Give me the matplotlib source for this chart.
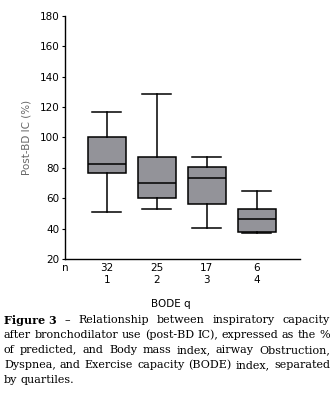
import matplotlib.pyplot as plt

# BODE quartiles and number of patients in each
quartiles = ["1", "2", "3", "4"]
n_patients = ["32", "25", "17", "6"]

# post-BD IC (% of predicted) box statistics per quartile
whisker_low = [50.7, 52.7, 40.2, 37.0]
q1 = [76.4, 60.0, 56.0, 37.6]
median = [82.8, 69.8, 73.1, 46.1]
q3 = [100.0, 86.9, 80.3, 53.1]
whisker_high = [116.5, 128.3, 87.0, 65.0]

caption_lines = [
    "Relationship between inspiratory capacity",
    "after bronchodilator use (post-BD IC), expressed as the %",
    "of predicted, and Body mass index, airway Obstruction,",
    "Dyspnea, and Exercise capacity (BODE) index, separated",
    "by quartiles.",
]

W, H = 333, 403
fig = plt.figure(figsize=(W / 100, H / 100), dpi=100)
ax = fig.add_axes([65 / W, 1 - 259 / H, 235 / W, 243.3 / H])

stats = []
for i in range(len(quartiles)):
    stats.append({
        "whislo": whisker_low[i], "q1": q1[i], "med": median[i],
        "q3": q3[i], "whishi": whisker_high[i], "fliers": [],
    })
positions = list(range(1, len(quartiles) + 1))
ax.bxp(stats, positions=positions, widths=0.76, patch_artist=True,
       showfliers=False,
       boxprops=dict(facecolor="#939399", edgecolor="black", linewidth=1.1),
       medianprops=dict(color="black", linewidth=1.1),
       whiskerprops=dict(color="black", linewidth=1.1),
       capprops=dict(color="black", linewidth=1.1),
       capwidths=0.58)

ax.set_xlim(0.166, 4.87)
ax.set_ylim(20, 180)
ax.set_yticks(range(20, 181, 20))
ax.tick_params(axis="y", length=2, width=0.8, pad=2, labelsize=7.5)
ax.set_xticks([])
for side in ["top", "right"]:
    ax.spines[side].set_visible(False)
ax.spines["left"].set_linewidth(1.0)
ax.spines["bottom"].set_linewidth(1.0)

ax.set_ylabel("Post-BD IC (%)", fontsize=7.5, color="#666666", labelpad=6)

# n and quartile rows under the axis
for x, n, q in zip(positions, n_patients, quartiles):
    ax.text(x, -0.037, n, transform=ax.get_xaxis_transform(), ha="center",
            va="center", fontsize=7.5)
    ax.text(x, -0.087, q, transform=ax.get_xaxis_transform(), ha="center",
            va="center", fontsize=7.5)
fig.text(65.5 / W, 1 - 268 / H, "n", ha="center", va="center", fontsize=7.5)
fig.text(171 / W, 1 - 304 / H, "BODE q", ha="center", va="center", fontsize=7.5)

# justified caption, word by word
fig.canvas.draw()
renderer = fig.canvas.get_renderer()
left, right = 4 / W, 330 / W
cap_font = dict(family="DejaVu Serif", fontsize=8.05)
for k, line in enumerate(caption_lines):
    y = 1 - (320 + 15 * k) / H
    words = line.split(" ")
    if k == 0:
        words = ["Figure 3", "\u2013"] + words
    artists = []
    for j, w in enumerate(words):
        weight = "bold" if (k == 0 and j == 0) else "normal"
        t = fig.text(0, y, w, ha="left", va="center", fontweight=weight, **cap_font)
        artists.append(t)
    widths = [a.get_window_extent(renderer).width / W for a in artists]
    if k == len(caption_lines) - 1:
        gap = 3.5 / W
    else:
        gap = (right - left - sum(widths)) / (len(words) - 1)
    x = left
    for a, wd in zip(artists, widths):
        a.set_x(x)
        x += wd + gap

fig.savefig("out.png", dpi=100)
